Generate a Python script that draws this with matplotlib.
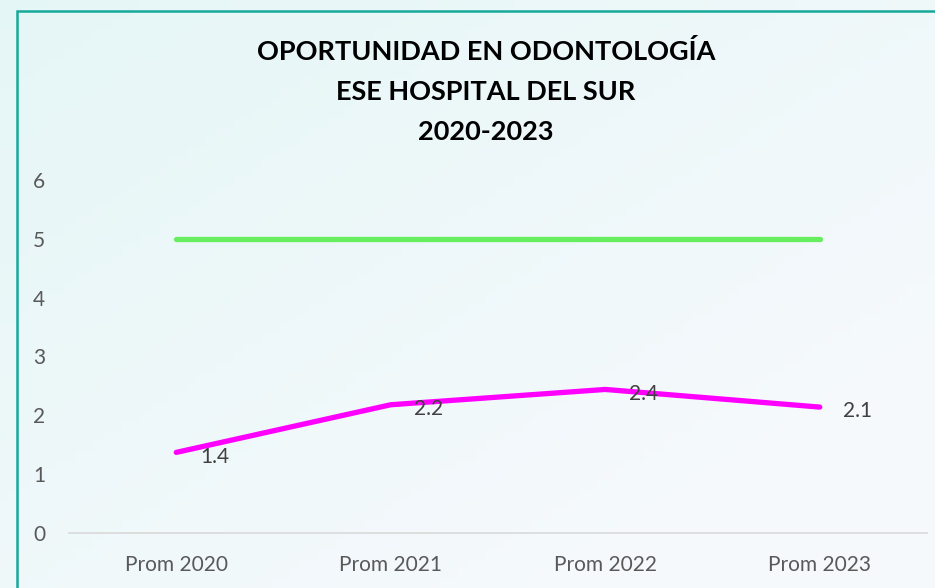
import numpy as np
import matplotlib.pyplot as plt
from matplotlib.patches import Rectangle

categories = ["Prom 2020", "Prom 2021", "Prom 2022", "Prom 2023"]
oportunidad = [1.37, 2.18, 2.44, 2.14]
meta = [5, 5, 5, 5]
title_lines = ["OPORTUNIDAD EN ODONTOLOGÍA", "ESE HOSPITAL DEL SUR", "2020-2023"]

W, H = 935, 588
plt.rcParams["font.family"] = ["Lato", "DejaVu Sans"]

fig = plt.figure(figsize=(W / 100, H / 100), dpi=100)

# soft diagonal background gradient
bg = fig.add_axes([0, 0, 1, 1], zorder=-10)
yy, xx = np.mgrid[0:1:60j, 0:1:100j]
t = np.clip((xx * 0.6 + yy * 0.6), 0, 1)
c0 = np.array([0.90, 0.965, 0.965])
c1 = np.array([0.965, 0.978, 0.99])
img = c0[None, None, :] * (1 - t[..., None]) + c1[None, None, :] * t[..., None]
bg.imshow(img, extent=[0, 1, 0, 1], aspect="auto", origin="upper")
bg.axis("off")

# teal frame (extends past right/bottom edge)
fig.patches.append(Rectangle((17 / W, -0.05), 1.1, 1 - 11 / H + 0.05,
                             transform=fig.transFigure, fill=False,
                             edgecolor="#16a99a", linewidth=1.8))

ax = fig.add_axes([69 / W, (H - 533) / H, (927 - 69) / W, (533 - 180) / H])
ax.patch.set_alpha(0)

x = np.arange(len(categories)) + 0.5
ax.plot(x, meta, color="#66ee5e", linewidth=3.8, solid_capstyle="round")
ax.plot(x, oportunidad, color="#ff00ff", linewidth=3.8, solid_capstyle="round")

for xi, v in zip(x, oportunidad):
    ax.annotate(f"{v:.1f}", (xi, v), xytext=(17, -3), textcoords="offset points",
                ha="left", va="center", fontsize=15, color="#404040")

ax.set_xlim(0, len(categories))
ax.set_ylim(0, 6)
ax.set_xticks(x)
ax.set_xticklabels(categories)
ax.set_yticks(range(0, 7))
ax.tick_params(axis="both", length=0, labelsize=15, labelcolor="#595959")
ax.tick_params(axis="x", pad=16)
ax.tick_params(axis="y", pad=17)
for s in ["top", "right", "left"]:
    ax.spines[s].set_visible(False)
ax.spines["bottom"].set_color("#d9d9d9")
ax.spines["bottom"].set_linewidth(1.2)

for i, line in enumerate(title_lines):
    fig.text(486 / W, 1 - (52 + 40 * i) / H, line, ha="center", va="center",
             fontsize=19.5, fontweight="bold", color="#000000")

fig.savefig("out.png", dpi=100)
